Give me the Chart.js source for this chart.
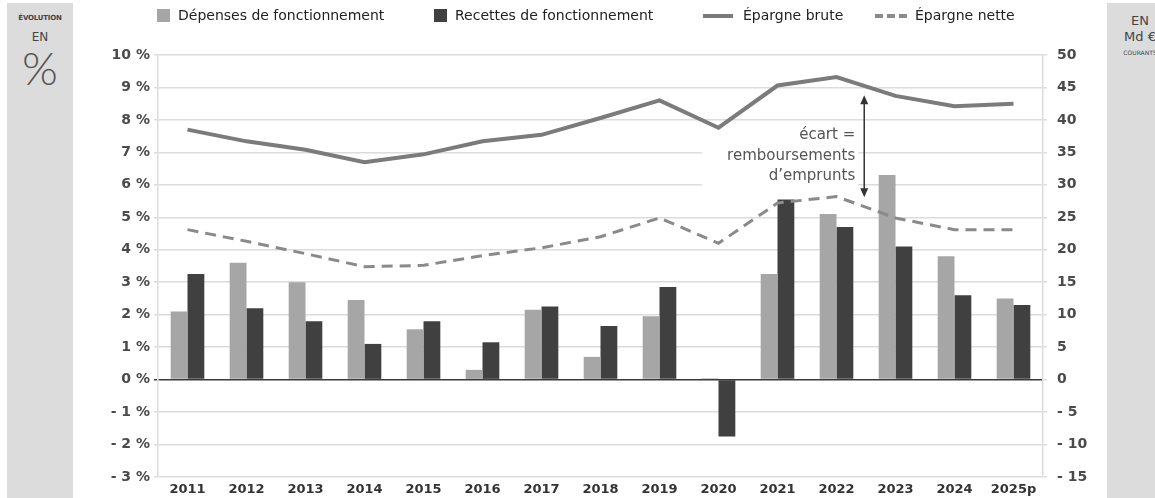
<!DOCTYPE html>
<html>
<head>
<meta charset="utf-8">
<script src="https://cdn.jsdelivr.net/npm/chart.js@4.4.1/dist/chart.umd.min.js"></script>
<style>
  html, body { margin: 0; padding: 0; background: #fff; overflow: hidden; }
  #wrap { position: relative; width: 1155px; height: 498px; overflow: hidden; font-family: 'DejaVu Sans', sans-serif; }
  .panel { position: absolute; top: 3px; width: 66px; height: 495px; background: #dcdcdc; color: #444; text-align: center; }
  .panel div { position: absolute; left: 0; width: 66px; }
  #chart { position: absolute; left: 0; top: 0; }
  .lg { position: absolute; top: 6px; height: 18px; font-size: 14px; line-height: 18px; color: #222; white-space: nowrap; }
  .sw { position: absolute; }
</style>
</head>
<body>
<div id="wrap">
  <div class="panel" style="left:7px">
    <div style="top:11px;font-size:7px;font-weight:bold;letter-spacing:-0.2px">ÉVOLUTION</div>
    <div style="top:27px;font-size:12px;">EN</div>
    <div style="top:37px;font-size:46px;font-family:Lato,sans-serif;font-weight:300;color:#555">%</div>
  </div>
  <div class="panel" style="left:1107px">
    <div style="top:10px;font-size:13px;">EN</div>
    <div style="top:26px;font-size:13px;">Md €</div>
    <div style="top:46px;font-size:6px;">COURANTS</div>
  </div>
  <canvas id="chart" width="1155" height="498"></canvas>
  <div class="sw" style="left:157px;top:9px;width:13px;height:13px;background:#a6a6a6"></div>
  <div class="lg" style="left:178px">Dépenses de fonctionnement</div>
  <div class="sw" style="left:434px;top:9px;width:13px;height:13px;background:#404040"></div>
  <div class="lg" style="left:455px">Recettes de fonctionnement</div>
  <div class="sw" style="left:703px;top:14px;width:30px;height:4px;background:#7b7b7b"></div>
  <div class="lg" style="left:743px">Épargne brute</div>
  <div class="sw" style="left:875px;top:14px;width:8px;height:4px;background:#8a8a8a"></div>
  <div class="sw" style="left:887px;top:14px;width:8px;height:4px;background:#8a8a8a"></div>
  <div class="sw" style="left:899px;top:14px;width:8px;height:4px;background:#8a8a8a"></div>
  <div class="lg" style="left:915px">Épargne nette</div>
</div>
<script>
// valeurs
const years = ['2011', '2012', '2013', '2014', '2015', '2016', '2017', '2018', '2019', '2020', '2021', '2022', '2023', '2024', '2025p'];
// évolution en %
const depenses = [2.1, 3.6, 3.0, 2.45, 1.55, 0.3, 2.15, 0.7, 1.95, 0.04, 3.25, 5.1, 6.3, 3.8, 2.5];
const recettes = [3.25, 2.2, 1.8, 1.1, 1.8, 1.15, 2.25, 1.65, 2.85, -1.75, 5.55, 4.7, 4.1, 2.6, 2.3];
// en Md € courants
const epargneBrute = [38.5, 36.7, 35.4, 33.5, 34.7, 36.7, 37.7, 40.3, 43.0, 38.8, 45.3, 46.6, 43.7, 42.1, 42.5];
const epargneNette = [23.1, 21.3, 19.4, 17.4, 17.6, 19.1, 20.3, 22.0, 24.9, 21.0, 27.2, 28.2, 24.9, 23.1, 23.1];

const noteLines = ['écart =', 'remboursements', 'd\u2019emprunts'];

function signed(v) {
  return v < 0 ? '- ' + Math.abs(v) : '' + v;
}

// encart "écart = remboursements d'emprunts"
const ecartPlugin = {
  id: 'ecart',
  beforeDatasetsDraw(chart) {
    const ctx = chart.ctx;
    const x = chart.scales.x;
    const ax = x.getPixelForValue(11) + 0.47 * (x.getPixelForValue(12) - x.getPixelForValue(11));
    const top = chart.scales.y1.getPixelForValue(43.8);
    ctx.save();
    ctx.fillStyle = '#fff';
    ctx.fillRect(ax - 162, top + 30, 156, 66);
    ctx.restore();
  },
  afterDatasetsDraw(chart) {
    const ctx = chart.ctx;
    const x = chart.scales.x;
    const y1 = chart.scales.y1;
    const ax = x.getPixelForValue(11) + 0.47 * (x.getPixelForValue(12) - x.getPixelForValue(11));
    const top = y1.getPixelForValue(43.8);
    const bot = y1.getPixelForValue(28.1);
    ctx.save();
    ctx.strokeStyle = '#333';
    ctx.fillStyle = '#333';
    ctx.lineWidth = 1.5;
    ctx.beginPath();
    ctx.moveTo(ax, top + 6);
    ctx.lineTo(ax, bot - 6);
    ctx.stroke();
    ctx.beginPath();
    ctx.moveTo(ax, top); ctx.lineTo(ax - 4, top + 9); ctx.lineTo(ax + 4, top + 9); ctx.closePath();
    ctx.fill();
    ctx.beginPath();
    ctx.moveTo(ax, bot); ctx.lineTo(ax - 4, bot - 9); ctx.lineTo(ax + 4, bot - 9); ctx.closePath();
    ctx.fill();
    ctx.font = '15px "DejaVu Sans"';
    ctx.fillStyle = '#555';
    ctx.textAlign = 'right';
    ctx.textBaseline = 'middle';
    noteLines.forEach((t, i) => ctx.fillText(t, ax - 9, top + 40 + i * 20.5));
    ctx.restore();
  }
};

new Chart(document.getElementById('chart'), {
  type: 'bar',
  data: {
    labels: years,
    datasets: [
      { type: 'line', label: 'Épargne brute', data: epargneBrute, yAxisID: 'y1',
        borderColor: '#7b7b7b', borderWidth: 4, pointRadius: 0, tension: 0, order: 0 },
      { type: 'line', label: 'Épargne nette', data: epargneNette, yAxisID: 'y1',
        borderColor: '#8a8a8a', borderWidth: 3, borderDash: [11, 7], pointRadius: 0, tension: 0, order: 0 },
      { label: 'Dépenses de fonctionnement', data: depenses, yAxisID: 'y',
        backgroundColor: '#a6a6a6', categoryPercentage: 0.57, barPercentage: 1, order: 1 },
      { label: 'Recettes de fonctionnement', data: recettes, yAxisID: 'y',
        backgroundColor: '#404040', categoryPercentage: 0.57, barPercentage: 1, order: 1 }
    ]
  },
  options: {
    responsive: false,
    animation: false,
    devicePixelRatio: 1,
    layout: { padding: { top: 55, left: 0, right: 0, bottom: 0 } },
    plugins: { legend: { display: false }, tooltip: { enabled: false } },
    scales: {
      x: {
        offset: true,
        grid: { display: false, drawTicks: false },
        border: { display: false },
        ticks: { color: '#333', font: { family: 'DejaVu Sans', size: 13, weight: 'bold' }, padding: 5 },
        afterFit(s) { s.height = 21; }
      },
      y: {
        position: 'left',
        min: -3, max: 10,
        ticks: { stepSize: 1, color: '#4a4a4a', padding: 4,
          font: { family: 'DejaVu Sans', size: 14, weight: 'bold' },
          callback: v => signed(v) + ' %' },
        grid: {
          color: c => c.tick && c.tick.value === 0 ? '#3a3a3a' : '#dcdcdc',
          lineWidth: 1.5,
          tickLength: 4
        },
        border: { color: '#dcdcdc', width: 1.5 },
        afterFit(s) { s.width = 158; }
      },
      y1: {
        position: 'right',
        min: -15, max: 50,
        ticks: { stepSize: 5, color: '#4a4a4a', padding: 10,
          font: { family: 'DejaVu Sans', size: 14, weight: 'bold' },
          callback: v => signed(v) },
        grid: { drawOnChartArea: false, color: '#dcdcdc', lineWidth: 1.5, tickLength: 4 },
        border: { color: '#dcdcdc', width: 1.5 },
        afterFit(s) { s.width = 112; }
      }
    }
  },
  plugins: [ecartPlugin]
});
</script>
</body>
</html>
